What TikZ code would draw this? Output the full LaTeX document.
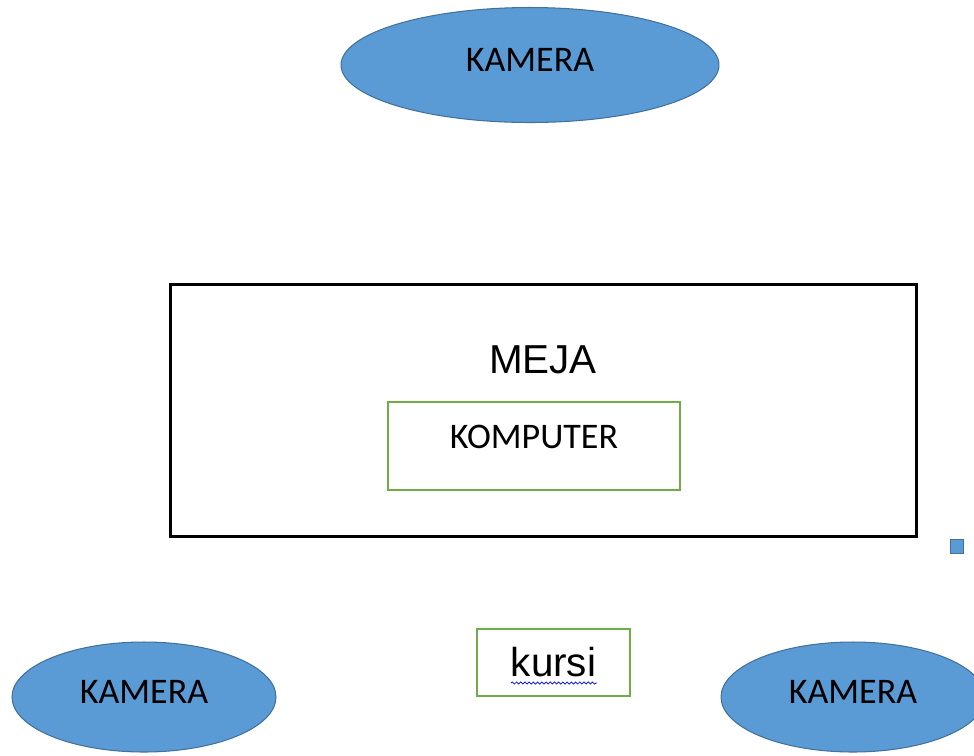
\documentclass[tikz,border=0pt]{standalone}
\usepackage{fontspec}
\setmainfont{Liberation Sans}
\newfontfamily\calibri{Carlito}
\usepackage{tikz}
\usetikzlibrary{shapes.geometric,decorations.pathmorphing}

\definecolor{birumuda}{HTML}{5B9BD5}
\definecolor{birutua}{HTML}{41719C}
\definecolor{hijau}{HTML}{70AD47}

\tikzset{
  kamera/.style={ellipse, draw=birutua, fill=birumuda, line width=0.6pt,
    inner sep=0pt, text depth=0.2cm,
    font=\calibri\fontsize{20.5}{24}\selectfont},
  kotakhijau/.style={rectangle, draw=hijau, line width=1.6pt, inner sep=0pt}
}

\begin{document}
\begin{tikzpicture}[x=0.02cm, y=-0.02cm]
    \clip (0, 0) rectangle (974, 755);
    \fill [white] (0, 0) rectangle (974, 755);

    % cameras
    \node [kamera, minimum width=7.56cm, minimum height=2.30cm] (kameraatas)
      at (530, 65) {KAMERA};
    \node [kamera, minimum width=5.28cm, minimum height=2.20cm] (kamerakiri)
      at (144, 697) {KAMERA};
    \node [kamera, minimum width=5.28cm, minimum height=2.20cm] (kamerakanan)
      at (853, 697) {KAMERA};

    % table
    \node [rectangle, draw, line width=1.7pt, minimum width=14.94cm,
      minimum height=5.06cm] (meja) at (543.5, 410.5) {};
    \node [font=\fontsize{23}{26}\selectfont] (mejateks) at (543, 360) {MEJA};

    % computer
    \node [kotakhijau, minimum width=5.84cm, minimum height=1.76cm,
      text depth=0.36cm, font=\calibri\fontsize{20.5}{24}\selectfont]
      (komputer) at (534, 446) {KOMPUTER};

    % chair
    \node [kotakhijau, minimum width=3.06cm, minimum height=1.34cm,
      font=\fontsize{23}{26}\selectfont] (kursi) at (553.5, 662.5) {kursi};
    \draw [blue, line width=0.4pt, decorate,
      decoration={snake, amplitude=0.6pt, segment length=2.4pt}]
      (511, 683) -- (597, 683);

    % handle
    \node [rectangle, draw=birutua, fill=birumuda, line width=0.8pt,
      minimum size=0.27cm, inner sep=0pt] (pegangan) at (957, 546.5) {};
\end{tikzpicture}
\end{document}
